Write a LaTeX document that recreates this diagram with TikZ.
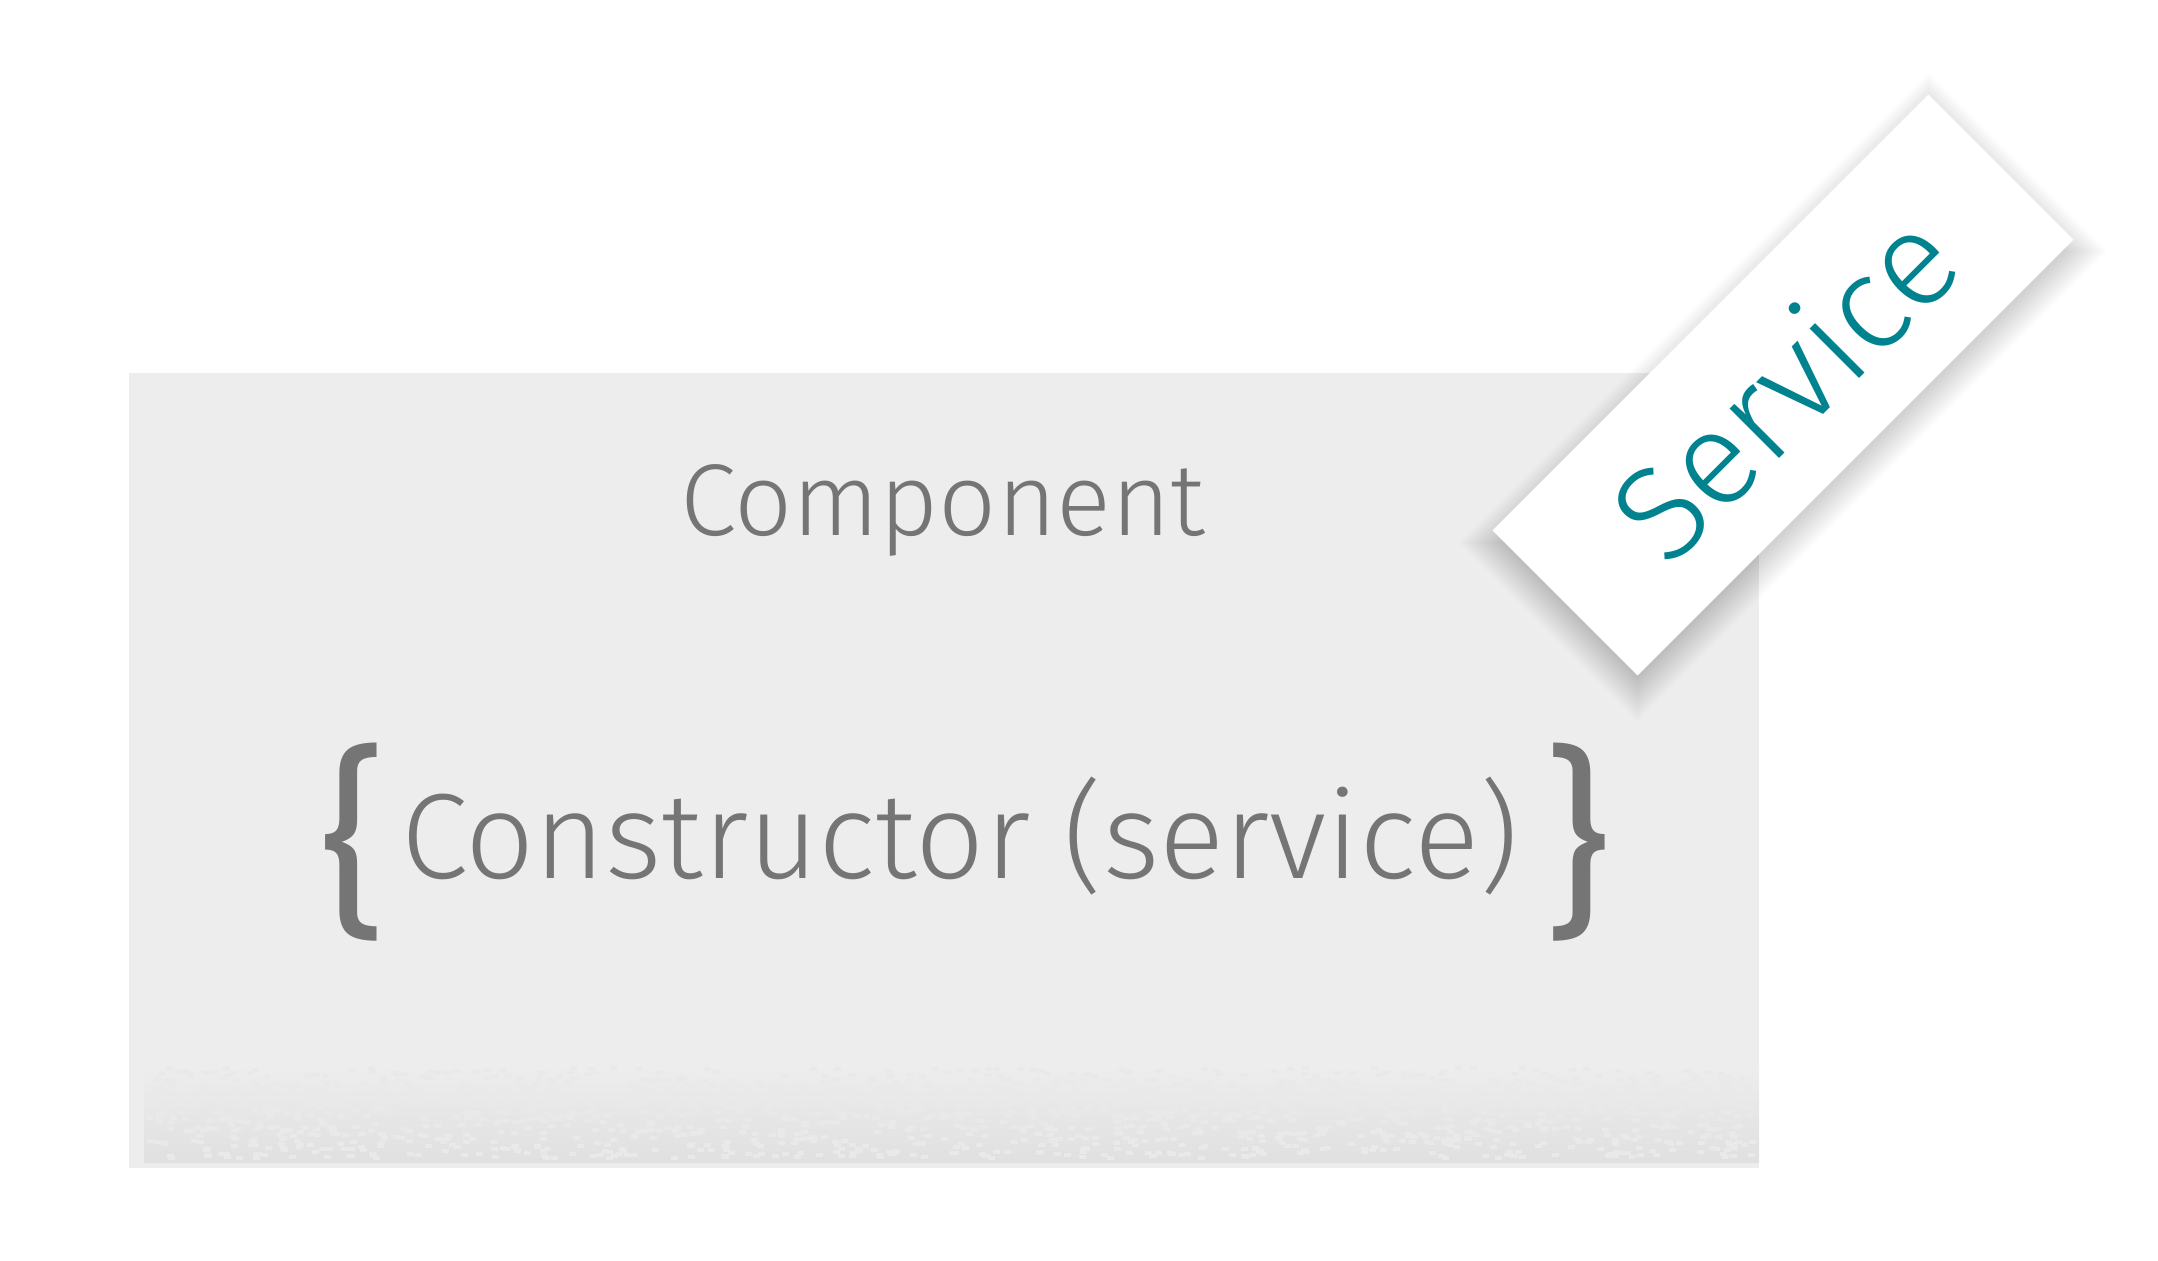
\documentclass[tikz,border=0pt]{standalone}
\usepackage{fontspec}
\setmainfont{Fira Sans}[UprightFont={* Light}]
\newfontfamily\bracefont{Fira Sans}
\usepackage{xcolor}

\definecolor{boxgray}{HTML}{EDEDED}
\definecolor{graingray}{HTML}{E0E0E0}
\definecolor{textgray}{HTML}{757575}
\definecolor{tealtext}{HTML}{00838F}

\tikzset{
    component/.style={fill=boxgray, draw=none}, % the grey component panel
    title/.style={text=textgray, anchor=base, inner sep=0pt, font=\fontsize{29}{35}\selectfont},
    ctor/.style={text=textgray, anchor=base, inner sep=0pt, font=\fontsize{34.5}{41}\selectfont},
    curly/.style={text=textgray, inner sep=0pt, font=\bracefont\fontsize{58}{64}\selectfont},
    tag/.style={fill=white, rotate=45, minimum width=6.16cm, minimum height=2.05cm,
        text=tealtext, font=\fontsize{38}{45}\selectfont},
    tagshadow/.style={fill=black, opacity=0.011}, % one layer of the soft shadow
}

\begin{document}
\begin{tikzpicture}[x=0.01cm, y=-0.01cm]
    \useasboundingbox (0,0) rectangle (2158,1260);

    % panel with the grainy strip at its foot
    \fill[component] (129,373) rectangle (1759,1168);
    \fill[top color=boxgray, bottom color=graingray] (144,1066) rectangle (1759,1162);
    \pgfmathsetseed{42}
    \foreach \i in {1,...,1400} {
        \pgfmathsetmacro{\gx}{144+rnd*1605}
        \pgfmathsetmacro{\gy}{1066+rnd*90}
        \fill[boxgray!70!graingray] (\gx,\gy) rectangle ++(7,4);
    }

    \node[title] (comp) at (943,535) {Component};
    \node[ctor] (ctor) at (960,878) {Constructor (service)};
    \node[curly] (lbrace) at (353,842) {\{};
    \node[curly] (rbrace) at (1577,842) {\}};

    % the service tag laid across the corner, with its shadow
    \coordinate (tagc) at (1783,385);
    \begin{scope}[shift={(tagc)}, yshift=-0.12cm, rotate=45]
        \foreach \k in {-8,...,12}
            \fill[tagshadow] (-308-2*\k,-102-2*\k) rectangle (308+2*\k,102+2*\k);
    \end{scope}
    \node[tag] (svc) at (tagc) {Service};
\end{tikzpicture}
\end{document}
